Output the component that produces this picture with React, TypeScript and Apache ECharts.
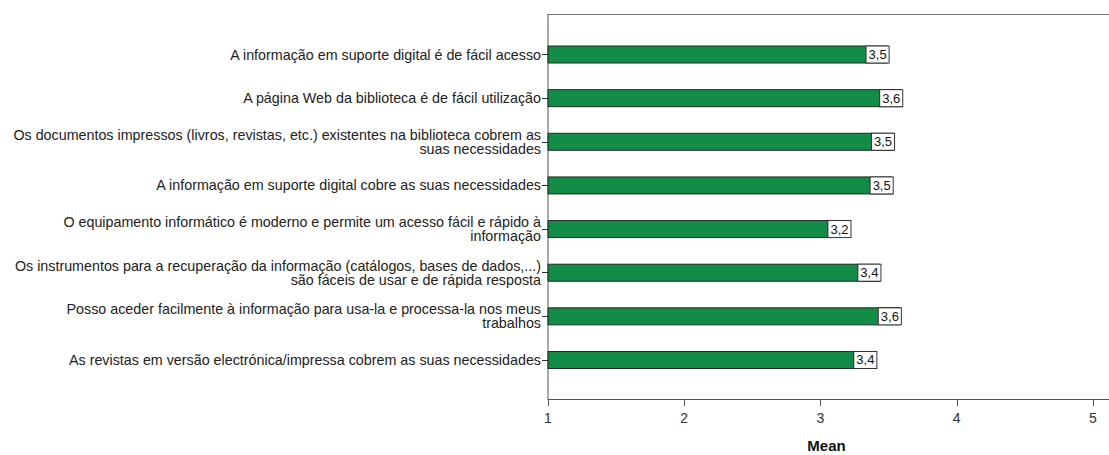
import React, { useEffect, useRef } from "react";
import * as echarts from "echarts";

const categories: string[] = [
  "A informação em suporte digital é de fácil acesso",
  "A página Web da biblioteca é de fácil utilização",
  "Os documentos impressos (livros, revistas, etc.) existentes na biblioteca cobrem as\nsuas necessidades",
  "A informação em suporte digital cobre as suas necessidades",
  "O equipamento informático é moderno e permite um acesso fácil e rápido à\ninformação",
  "Os instrumentos para a recuperação da informação (catálogos, bases de dados,...)\nsão fáceis de usar e de rápida resposta",
  "Posso aceder facilmente à informação para usa-la e processa-la nos meus\ntrabalhos",
  "As revistas em versão electrónica/impressa cobrem as suas necessidades",
];

const means: number[] = [3.5, 3.6, 3.54, 3.53, 3.22, 3.44, 3.59, 3.41];

const xTicks = { min: 1, max: 5.117, interval: 1 };
const axisName = "Mean";

const FONT = "'Liberation Sans', Arial, sans-serif";

export default function App() {
  const ref = useRef<HTMLDivElement>(null);

  useEffect(() => {
    if (!ref.current) return;
    const chart = echarts.init(ref.current, undefined, { renderer: "svg" });
    const gridLeft = 548;
    const gridTop = 32.7;
    const gridBottomY = 381.8;
    const unit = 136.25;
    const frameTop = 14;
    const frameBottom = 399;
    chart.setOption({
      animation: false,
      backgroundColor: "#ffffff",
      textStyle: { fontFamily: FONT },
      grid: {
        left: gridLeft,
        top: gridTop,
        width: (xTicks.max - xTicks.min) * unit,
        height: gridBottomY - gridTop,
        containLabel: false,
        outerBoundsMode: "none",
      },
      xAxis: [
        {
          type: "value",
          position: "bottom",
          min: xTicks.min,
          max: xTicks.max,
          interval: xTicks.interval,
          offset: frameBottom - gridBottomY,
          axisLine: { show: true, lineStyle: { color: "#555555", width: 1 } },
          axisTick: { show: true, length: 7, lineStyle: { color: "#555555" } },
          axisLabel: {
            show: true,
            color: "#333333",
            fontSize: 14,
            fontFamily: FONT,
            margin: 12,
            showMaxLabel: false,
            formatter: (v: number) => (Math.abs(v - Math.round(v)) < 1e-9 && v <= 5 ? String(v) : ""),
          },
          splitLine: { show: false },
          name: axisName,
          nameLocation: "middle",
          nameGap: 39,
          nameTextStyle: {
            fontWeight: "bold",
            fontSize: 15,
            color: "#111111",
            fontFamily: FONT,
            padding: [0, 4, 0, 0],
          },
        },
        {
          type: "value",
          position: "top",
          min: xTicks.min,
          max: xTicks.max,
          interval: xTicks.interval,
          offset: gridTop - frameTop,
          axisLine: { show: true, lineStyle: { color: "#777777", width: 1 } },
          axisTick: { show: false },
          axisLabel: { show: false },
          splitLine: { show: false },
        },
      ],
      yAxis: {
        type: "category",
        data: categories,
        inverse: true,
        axisLine: { show: false },
        axisTick: { show: true, alignWithLabel: true, length: 6, lineStyle: { color: "#333333" } },
        axisLabel: {
          color: "#222222",
          fontSize: 14.3,
          fontFamily: FONT,
          margin: 7,
          lineHeight: 14,
          align: "right",
        },
      },
      graphic: [
        {
          type: "line",
          shape: { x1: gridLeft, y1: frameTop, x2: gridLeft, y2: frameBottom },
          style: { stroke: "#555555", lineWidth: 1 },
          silent: true,
        },
      ],
      series: [
        {
          type: "bar",
          xAxisIndex: 0,
          data: means,
          barWidth: 18,
          itemStyle: { color: "#138c48", borderColor: "#1e2a22", borderWidth: 1 },
          label: {
            show: true,
            position: "insideRight",
            distance: 0,
            color: "#111111",
            fontSize: 13,
            fontFamily: FONT,
            backgroundColor: "#ffffff",
            borderColor: "#333333",
            borderWidth: 1,
            padding: [2, 2, 1, 2],
            formatter: (p: any) => (p.value as number).toFixed(1).replace(".", ","),
          },
        },
      ],
    });
    return () => chart.dispose();
  }, []);

  return (
    <div
      ref={ref}
      style={{ position: "fixed", left: 0, top: 0, width: 1109, height: 455 }}
    />
  );
}
